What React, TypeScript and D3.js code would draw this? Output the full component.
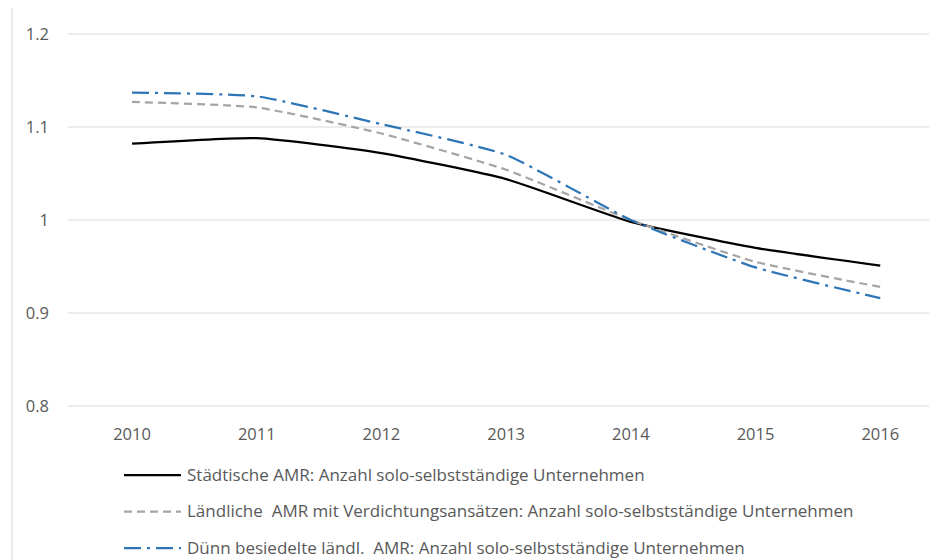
import * as d3 from "d3";

const years = ["2010", "2011", "2012", "2013", "2014", "2015", "2016"];
const staedtisch = [1.082, 1.088, 1.072, 1.044, 0.998, 0.97, 0.951];
const laendlichVerd = [1.127, 1.121, 1.093, 1.054, 1.0, 0.955, 0.928];
const duennBesiedelt = [1.137, 1.133, 1.103, 1.07, 1.0, 0.949, 0.916];
const yTicks = [0.8, 0.9, 1, 1.1, 1.2];

const seriesList = [
  { name: "Städtische AMR: Anzahl solo-selbstständige Unternehmen", values: staedtisch, color: "#000000", dash: "" },
  { name: "Ländliche  AMR mit Verdichtungsansätzen: Anzahl solo-selbstständige Unternehmen", values: laendlichVerd, color: "#a5a5a5", dash: "8,5" },
  { name: "Dünn besiedelte ländl.  AMR: Anzahl solo-selbstständige Unternehmen", values: duennBesiedelt, color: "#2e75b6", dash: "17,6,3,6" },
];

export default function App() {
  const width = 929;
  const height = 560;
  const left = 69.7;
  const bandW = 124.7;

  const x = d3.scaleBand().domain(years).range([left, left + bandW * years.length]);
  const y = d3.scaleLinear().domain([0.8, 1.2]).range([406, 34]);

  const line = d3
    .line<number>()
    .x((_, i) => (x(years[i]) as number) + x.bandwidth() / 2)
    .y((d) => y(d))
    .curve(d3.curveCardinal.tension(0.5));

  const font = "'Open Sans', sans-serif";

  return (
    <svg width={width} height={height} style={{ position: "absolute", left: 0, top: 0, background: "#fff" }}>
      <line x1={12} x2={12} y1={8} y2={height} stroke="#d9d9d9" strokeWidth={1} />
      {yTicks.map((t) => (
        <g key={t}>
          <line x1={left - 2} x2={width} y1={y(t)} y2={y(t)} stroke="#d9d9d9" strokeWidth={1} />
          <text x={49} y={y(t)} dy="0.35em" textAnchor="end" fontFamily={font} fontSize={16.5} fill="#595959">
            {String(t)}
          </text>
        </g>
      ))}
      {years.map((yr) => (
        <text
          key={yr}
          x={(x(yr) as number) + x.bandwidth() / 2}
          y={440}
          textAnchor="middle"
          fontFamily={font}
          fontSize={16.5}
          fill="#595959"
        >
          {yr}
        </text>
      ))}
      {seriesList.map((s) => (
        <path
          key={s.name}
          d={line(s.values) || ""}
          fill="none"
          stroke={s.color}
          strokeWidth={2.25}
          strokeDasharray={s.dash || undefined}
        />
      ))}
      {seriesList.map((s, i) => {
        const ly = 475 + i * 36.5;
        return (
          <g key={"lg" + i}>
            <line x1={124} x2={181} y1={ly} y2={ly} stroke={s.color} strokeWidth={2.25} strokeDasharray={s.dash || undefined} />
            <text x={187} y={ly} dy="0.35em" fontFamily={font} fontSize={17} fill="#595959" style={{ whiteSpace: "pre" }}>
              {s.name}
            </text>
          </g>
        );
      })}
    </svg>
  );
}
